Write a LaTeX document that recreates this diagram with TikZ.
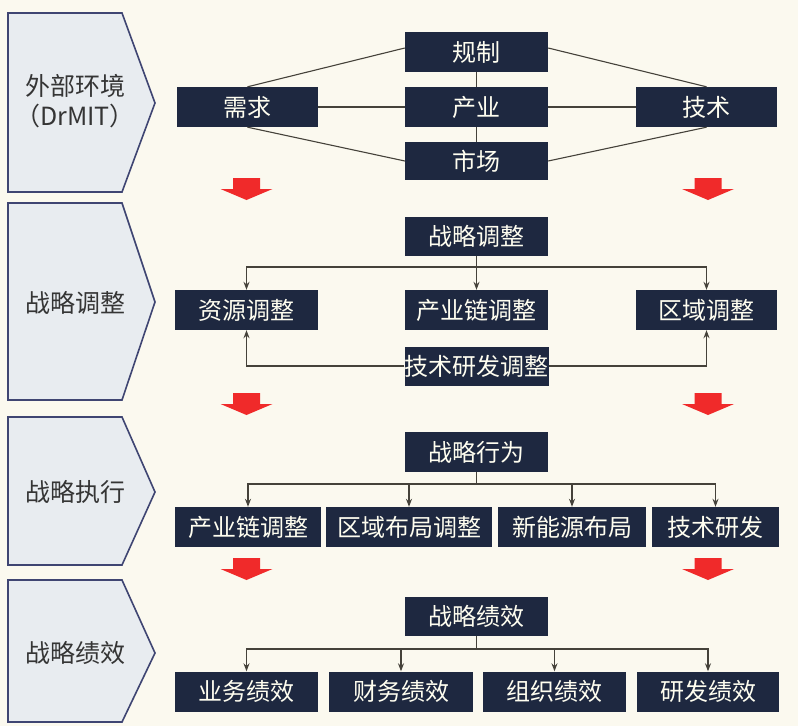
\documentclass[tikz,border=0pt]{standalone}
\usepackage{fontspec}
\setmainfont{Noto Sans CJK SC}
\usetikzlibrary{arrows.meta}
\definecolor{bgc}{HTML}{FBF9EF}
\definecolor{navy}{HTML}{1E2840}
\definecolor{chevfill}{HTML}{E8ECF0}
\definecolor{chevline}{HTML}{3F4572}
\definecolor{linec}{HTML}{45423A}
\definecolor{redc}{HTML}{F02A2A}
\definecolor{labc}{HTML}{353535}
\begin{document}
\begin{tikzpicture}[x=1pt,y=-1pt,
  box/.style={rectangle, fill=navy, text=white!94!yellow, minimum width=143, minimum height=40, inner sep=0pt, font=\fontsize{24}{26}\selectfont},
  chev/.style={fill=chevfill, draw=chevline, line width=1.6pt, line join=miter},
  chevtext/.style={text=labc, font=\fontsize{25}{30}\selectfont, align=center, inner sep=0pt},
  conn/.style={draw=linec, line width=1.1pt},
  arr/.style={conn, -{Stealth[length=8pt,width=6pt]}},
  redarrow/.pic={\fill[redc] (-13.5,-11)--(13.5,-11)--(13.5,0)--(26,0)--(0,11)--(-26,0)--(-13.5,0)--cycle;}
]
\fill[bgc] (0,0) rectangle (798,726);
\useasboundingbox (0,0) rectangle (798,726);

% chevrons
\draw[chev] (8,13) -- (122,13) -- (155,103) -- (122,192) -- (8,192) -- cycle;
\draw[chev] (8,203) -- (122,203) -- (155,302) -- (122,400) -- (8,400) -- cycle;
\draw[chev] (8,417) -- (122,417) -- (155,492) -- (122,565) -- (8,565) -- cycle;
\draw[chev] (8,580) -- (122,580) -- (155,653) -- (122,722) -- (8,722) -- cycle;
\node[chevtext] (c1) at (75,101) {外部环境\\（DrMIT）};
\node[chevtext] (c2) at (75,303) {战略调整};
\node[chevtext] (c3) at (75,492) {战略执行};
\node[chevtext] (c4) at (75,653) {战略绩效};

% red arrows
\pic at (246.5,189) {redarrow};
\pic at (708,189) {redarrow};
\pic at (246.5,404) {redarrow};
\pic at (708,404) {redarrow};
\pic at (246.5,569) {redarrow};
\pic at (708,569) {redarrow};

% row 1
\node[box] (gz) at (476.5,52) {规制};
\node[box, minimum width=141] (xq) at (247.5,107) {需求};
\node[box] (cy) at (476.5,107) {产业};
\node[box, minimum width=141] (js) at (706.5,107) {技术};
\node[box, minimum height=38] (sc) at (476.5,161) {市场};
\draw[conn] (xq.north) -- ([yshift=4pt]gz.west);
\draw[conn] (js.north) -- ([yshift=4pt]gz.east);
\draw[conn] (xq.south) -- (sc.west);
\draw[conn] (js.south) -- (sc.east);
\draw[conn] (xq.east) -- (cy.west);
\draw[conn] (cy.east) -- (js.west);
\draw[conn] (gz.south) -- (cy.north);
\draw[conn] (cy.south) -- (sc.north);

% row 2
\node[box, minimum height=39] (tz) at (476.5,236) {战略调整};
\node[box] (zy) at (246.5,310) {资源调整};
\node[box] (cl) at (476.5,310) {产业链调整};
\node[box, minimum width=141] (qy) at (706.5,310) {区域调整};
\node[box, minimum height=39] (jy) at (476.5,366) {技术研发调整};
\coordinate (j2) at (476.5,267);
\draw[conn] (tz.south) -- (j2);
\draw[arr] (j2) -| (zy.north);
\draw[arr] (j2) -- (cl.north);
\draw[arr] (j2) -| (qy.north);
\draw[arr] (jy.west) -| (zy.south);
\draw[arr] (jy.east) -| (qy.south);

% row 3
\node[box] (xw) at (476.5,452) {战略行为};
\node[box, minimum width=146] (e1) at (248,527) {产业链调整};
\node[box, minimum width=166] (e2) at (409,527) {区域布局调整};
\node[box, minimum width=148] (e3) at (572,527) {新能源布局};
\node[box, minimum width=127] (e4) at (715.5,527) {技术研发};
\coordinate (j3) at (476.5,484);
\draw[conn] (xw.south) -- (j3);
\draw[arr] (j3) -| (e1.north);
\draw[arr] (j3) -| (e2.north);
\draw[arr] (j3) -| (e3.north);
\draw[arr] (j3) -| (e4.north);

% row 4
\node[box, minimum height=39] (jx) at (476.5,616) {战略绩效};
\node[box] (f1) at (246.5,691.5) {业务绩效};
\node[box, minimum width=144] (f2) at (401,691.5) {财务绩效};
\node[box] (f3) at (554.5,691.5) {组织绩效};
\node[box, minimum width=142] (f4) at (708,691.5) {研发绩效};
\coordinate (j4) at (476.5,649);
\draw[conn] (jx.south) -- (j4);
\draw[arr] (j4) -| (f1.north);
\draw[arr] (j4) -| (f2.north);
\draw[arr] (j4) -| (f3.north);
\draw[arr] (j4) -| (f4.north);
\end{tikzpicture}
\end{document}
